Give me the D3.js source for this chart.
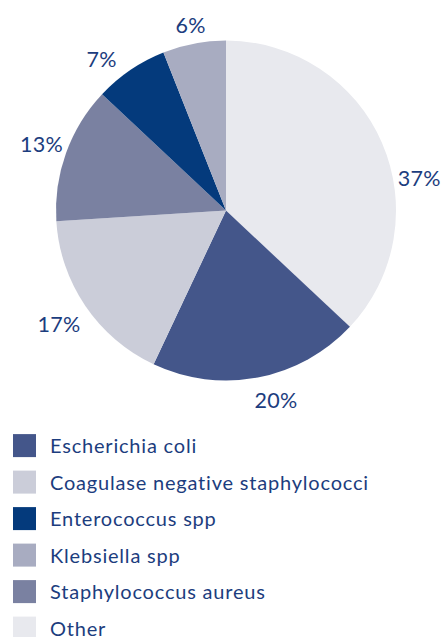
<!DOCTYPE html>
<html>
<head>
<meta charset="utf-8">
<script src="https://cdn.jsdelivr.net/npm/d3@7"></script>
<style>
  html, body { margin: 0; padding: 0; background: #ffffff; }
  svg { display: block; }
  text { font-family: Lato, "Noto Sans", sans-serif; fill: #1c3d7e; }
</style>
</head>
<body>
<svg id="chart" width="447" height="637"></svg>
<script>
// ---- data ----
const categories = [
  "Escherichia coli",
  "Coagulase negative staphylococci",
  "Enterococcus spp",
  "Klebsiella spp",
  "Staphylococcus aureus",
  "Other"
];
const values = [20, 17, 7, 6, 13, 37];
const colors = ["#44568a", "#cbcdd9", "#043a7c", "#a8acc1", "#7a81a1", "#e8e9ee"];
// order in which slices run clockwise from 12 o'clock
const pieOrder = ["Other", "Escherichia coli", "Coagulase negative staphylococci",
                  "Staphylococcus aureus", "Enterococcus spp", "Klebsiella spp"];

// ---- layout ----
const svg = d3.select("#chart");
const cx = 226, cy = 210.5, R = 170, labelR = 196;
const labelAngleNudge = { "Other": 0.24, "Enterococcus spp": -0.09, "Escherichia coli": -0.07 };
const labelRadiusNudge = { "Klebsiella spp": -7, "Coagulase negative staphylococci": 6 };

const color = d3.scaleOrdinal().domain(categories).range(colors);
const valueOf = d3.scaleOrdinal().domain(categories).range(values);

const pieData = d3.pie().sort(null).value(d => valueOf(d))(pieOrder);
const arc = d3.arc().innerRadius(0).outerRadius(R);

const g = svg.append("g").attr("transform", `translate(${cx},${cy})`);
g.selectAll("path.slice")
  .data(pieData)
  .join("path")
  .attr("class", "slice")
  .attr("d", arc)
  .attr("fill", d => color(d.data));

const total = d3.sum(values);
function labelPos(d) {
  const a = (d.startAngle + d.endAngle) / 2 + (labelAngleNudge[d.data] || 0);
  const r = labelR + (labelRadiusNudge[d.data] || 0);
  return [r * Math.sin(a), -r * Math.cos(a)];
}
g.selectAll("text.pct")
  .data(pieData)
  .join("text")
  .attr("class", "pct")
  .attr("text-anchor", "middle")
  .attr("dominant-baseline", "central")
  .style("font-size", "21.5px")
  .style("letter-spacing", "0.3px")
  .attr("x", d => labelPos(d)[0])
  .attr("y", d => labelPos(d)[1])
  .text(d => Math.round(d.value / total * 100) + "%");

// ---- legend ----
const legendY = d3.scalePoint().domain(categories).range([445.5, 628]);
const leg = svg.append("g");
const rows = leg.selectAll("g.row").data(categories).join("g")
  .attr("class", "row")
  .attr("transform", d => `translate(0,${legendY(d)})`);
rows.append("rect")
  .attr("x", 13).attr("y", -11.4)
  .attr("width", 23).attr("height", 23)
  .attr("fill", d => color(d));
rows.append("text")
  .attr("x", 50).attr("y", 7.8)
  .style("font-size", "20px")
  .style("letter-spacing", "0.8px")
  .text(d => d);
</script>
</body>
</html>
